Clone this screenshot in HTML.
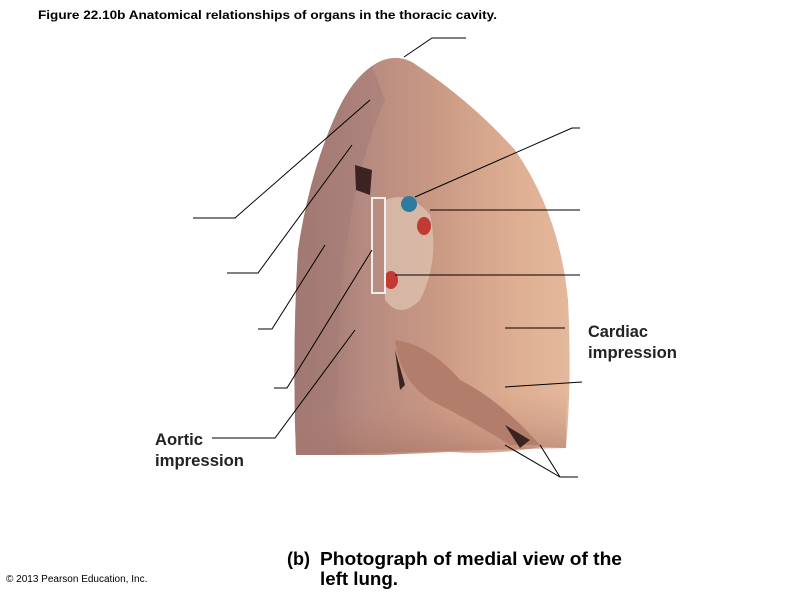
<!DOCTYPE html>
<html><head><meta charset="utf-8"><style>
html,body{margin:0;padding:0;background:#fff;width:800px;height:600px;overflow:hidden}
svg{display:block}
text{font-family:"Liberation Sans",Arial,sans-serif}
</style></head><body>
<svg width="800" height="600" viewBox="0 0 800 600" xmlns="http://www.w3.org/2000/svg">
<defs>
<linearGradient id="lg" x1="0" y1="0" x2="1" y2="0">
<stop offset="0" stop-color="#9a7068"/>
<stop offset="0.25" stop-color="#b58a80"/>
<stop offset="0.5" stop-color="#c99884"/>
<stop offset="0.8" stop-color="#deae92"/>
<stop offset="1" stop-color="#e4b89c"/>
</linearGradient>
<linearGradient id="lg2" x1="0" y1="0" x2="0" y2="1">
<stop offset="0" stop-color="#c58f7c" stop-opacity="0"/>
<stop offset="1" stop-color="#a26e62" stop-opacity="0.55"/>
</linearGradient>
</defs>
<text x="38" y="19" font-size="12" font-weight="bold" textLength="459" lengthAdjust="spacingAndGlyphs">Figure 22.10b  Anatomical relationships of organs in the thoracic cavity.</text>
<path d="M372,66 Q392,52 412,62 Q470,100 515,150 Q560,215 568,300 Q572,380 566,448 L540,447 Q500,455 450,452 L380,455 L296,455 Q292,350 298,250 Q310,170 338,110 Q352,80 372,66 Z" fill="url(#lg)"/>
<path d="M296,390 L566,395 L566,448 L296,455 Z" fill="url(#lg2)"/>
<path d="M298,250 Q310,170 338,110 Q352,80 372,66 L385,100 Q350,180 340,300 L335,455 L296,455 Q292,350 298,250Z" fill="#a57d78" opacity="0.6"/>
<path d="M395,340 Q430,345 460,380 Q500,400 540,445 L510,445 Q470,420 430,400 Q400,380 395,340Z" fill="#b27d6a"/>
<path d="M355,165 L372,170 L370,195 L356,190Z" fill="#3a2320"/>
<path d="M395,350 L405,385 L400,390 Z" fill="#3a2320"/>
<path d="M505,425 L530,440 L520,448 Z" fill="#3a2320"/>
<path d="M385,200 Q410,190 430,215 Q440,260 420,300 Q400,320 385,300Z" fill="#e0c6b4" opacity="0.7"/>
<circle cx="409" cy="204" r="8" fill="#2d7ca0"/>
<ellipse cx="424" cy="226" rx="7" ry="9" fill="#c23a34"/>
<ellipse cx="391" cy="280" rx="7" ry="9" fill="#c23a34"/>
<rect x="372" y="198" width="13" height="95" fill="none" stroke="#eee" stroke-width="2"/>
<g stroke="#000" stroke-width="1" fill="none">
<polyline points="404,57 432,38 466,38"/>
<polyline points="193,218 235,218 370,100"/>
<polyline points="227,273 258,273 352,145"/>
<polyline points="258,329 272,329 325,245"/>
<polyline points="274,388 287,388 372,250"/>
<polyline points="212,438 275,438 355,330"/>
<polyline points="415,197 572,128 580,128"/>
<polyline points="430,210 580,210"/>
<polyline points="395,275 580,275"/>
<polyline points="505,328 565,328"/>
<polyline points="505,387 582,382"/>
<polyline points="505,445 560,477 578,477"/>
<polyline points="540,445 560,477"/>
</g>
<text x="588" y="337" font-size="17" font-weight="bold" fill="#222" textLength="60" lengthAdjust="spacingAndGlyphs">Cardiac</text>
<text x="588" y="358" font-size="17" font-weight="bold" fill="#222" textLength="89" lengthAdjust="spacingAndGlyphs">impression</text>
<text x="155" y="445" font-size="17" font-weight="bold" fill="#222" textLength="48" lengthAdjust="spacingAndGlyphs">Aortic</text>
<text x="155" y="466" font-size="17" font-weight="bold" fill="#222" textLength="89" lengthAdjust="spacingAndGlyphs">impression</text>
<text x="287" y="565" font-size="18" font-weight="bold">(b)</text>
<text x="320" y="565" font-size="18" font-weight="bold" textLength="302" lengthAdjust="spacingAndGlyphs">Photograph of medial view of the</text>
<text x="320" y="585" font-size="18" font-weight="bold" textLength="78" lengthAdjust="spacingAndGlyphs">left lung.</text>
<text x="6" y="582" font-size="10">© 2013 Pearson Education, Inc.</text>
</svg>
</body></html>
